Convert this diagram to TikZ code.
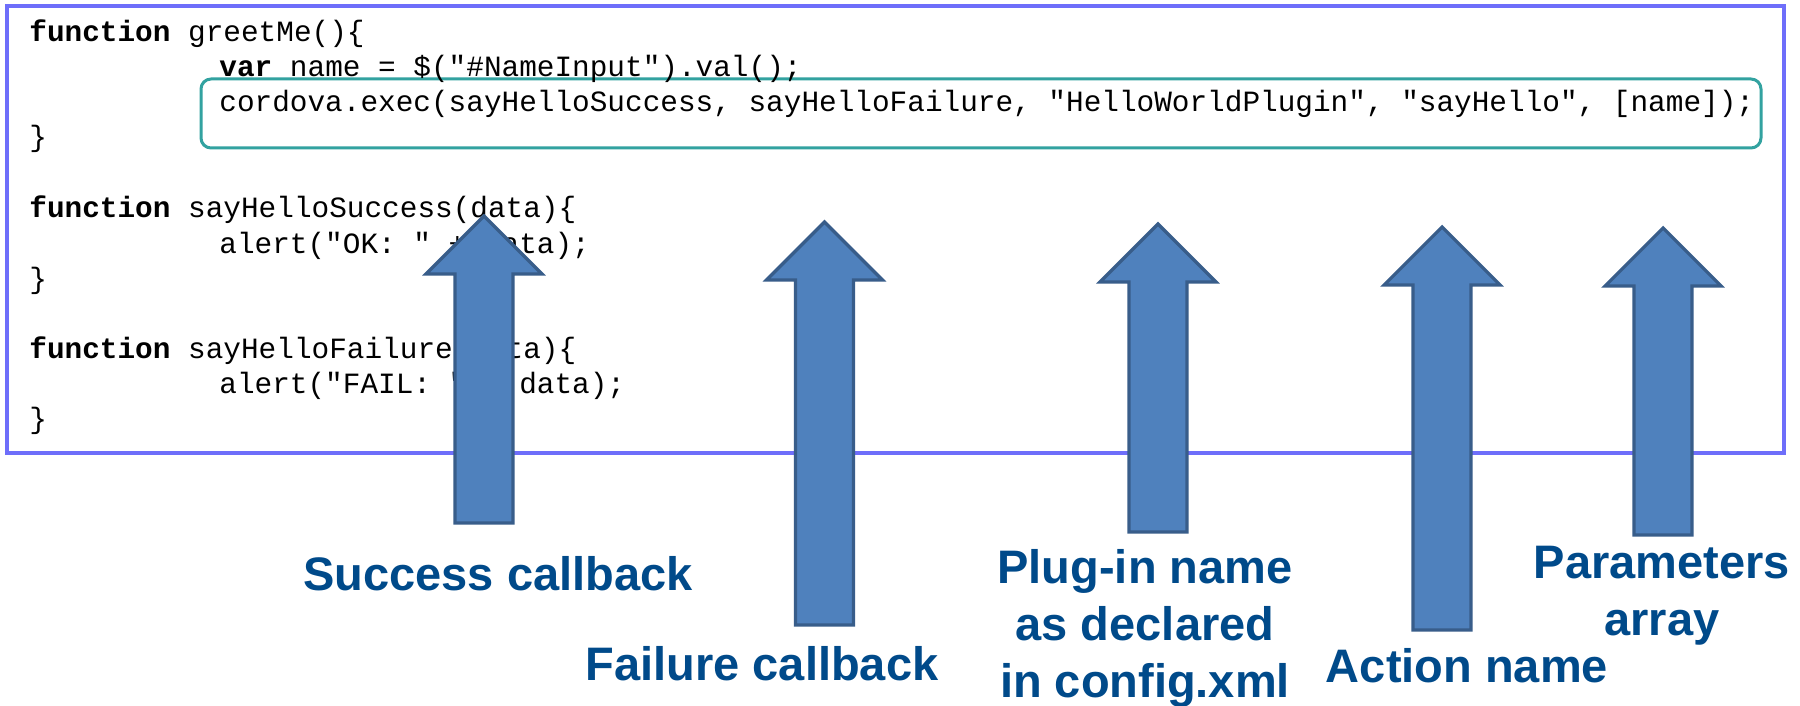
\documentclass[tikz,border=0pt]{standalone}
\usepackage{fontspec}
\setmainfont{Liberation Sans}
\newfontfamily\codefont{Liberation Mono}
\definecolor{boxblue}{RGB}{110,110,250}
\definecolor{tealc}{RGB}{50,162,160}
\definecolor{arrfill}{RGB}{79,129,189}
\definecolor{arrdraw}{RGB}{56,93,138}
\definecolor{lblblue}{RGB}{0,74,138}
\tikzset{
  outerbox/.style={draw=boxblue, line width=1.8pt},
  execbox/.style={draw=tealc, line width=1.5pt, rounded corners=5pt},
  codeline/.style={anchor=base west, inner sep=0pt, font=\codefont\fontsize{14.7}{17.5}\selectfont},
  blockarrow/.style={fill=arrfill, draw=arrdraw, line width=1.6pt, line join=miter},
  lbl/.style={anchor=base, inner sep=0pt, align=center, text=lblblue, font=\fontsize{23.5}{28.5}\selectfont\bfseries}
}
\newcommand{\barrow}[4]{%
  \draw[blockarrow] (#1,#2) -- (#1+58,#3) -- (#1+29,#3) -- (#1+29,#4) -- (#1-29,#4) -- (#1-29,#3) -- (#1-58,#3) -- cycle;}
\begin{document}
\begin{tikzpicture}[x=0.5pt,y=-0.5pt]
\useasboundingbox[fill=white] (0,0) rectangle (1800,706);
\draw[outerbox] (7,6) rectangle (1784,453);
\draw[execbox] (201,79) rectangle (1761,148);
% code
\node[codeline] (l1) at (29,42) {\textbf{function} greetMe()\{};
\node[codeline] (l2) at (219,77) {\textbf{var} name = \$("\#NameInput").val();};
\node[codeline] (l3) at (219,112) {cordova.exec(sayHelloSuccess, sayHelloFailure, "HelloWorldPlugin", "sayHello", [name]);};
\node[codeline] (l4) at (29,147) {\}};
\node[codeline] (l5) at (29,218) {\textbf{function} sayHelloSuccess(data)\{};
\node[codeline] (l6) at (219,253) {alert("OK: " + data);};
\node[codeline] (l7) at (29,288) {\}};
\node[codeline] (l8) at (29,358) {\textbf{function} sayHelloFailure(data)\{};
\node[codeline] (l9) at (219,393) {alert("FAIL: " + data);};
\node[codeline] (l10) at (29,428) {\}};
% arrows
\barrow{484}{216}{274}{523}
\barrow{824.5}{222}{280}{625}
\barrow{1158}{224}{282}{532}
\barrow{1442}{227}{285}{630}
\barrow{1663}{228}{286}{535}
% labels
\node[lbl] (succ) at (498,590) {Success callback};
\node[lbl] (fail) at (762,680) {Failure callback};
\node[lbl] (plug) at (1145,697) {Plug-in name\\as declared\\in config.xml};
\node[lbl] (act) at (1467,682) {Action name};
\node[lbl] (par) at (1662,635) {Parameters\\array};
\end{tikzpicture}
\end{document}
